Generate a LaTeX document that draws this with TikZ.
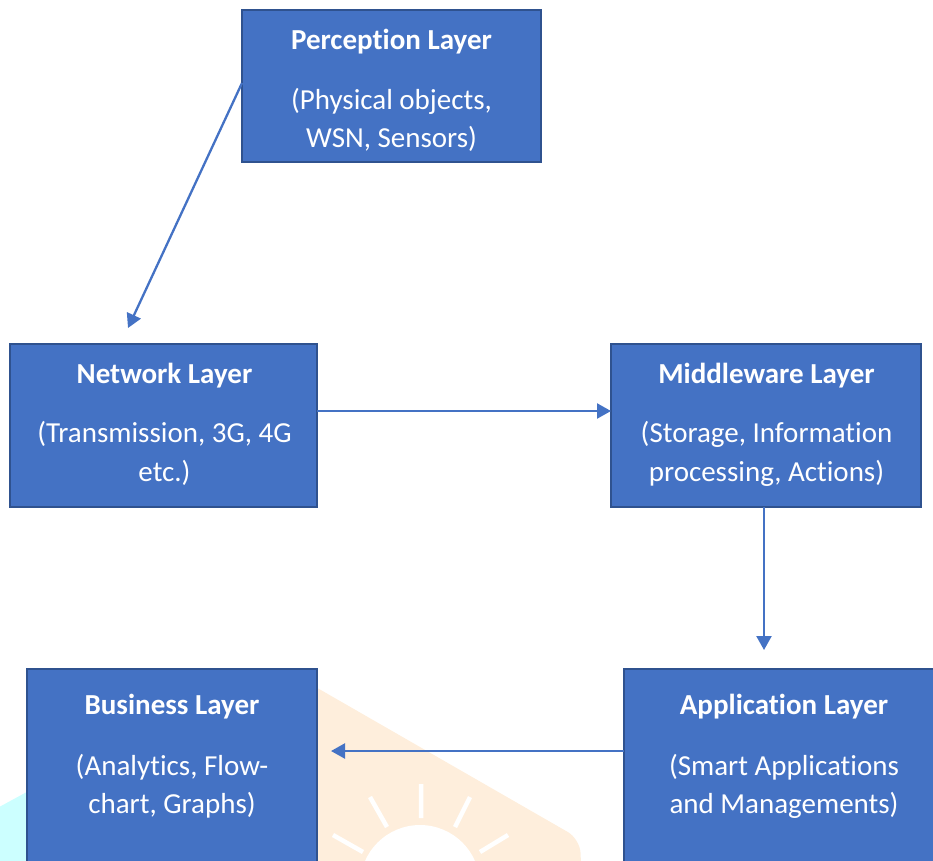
\documentclass[tikz,border=0pt]{standalone}
\usepackage{fontspec}
\setmainfont{Carlito}[Ligatures={NoCommon}]
\usetikzlibrary{arrows.meta,calc}
\definecolor{layerfill}{HTML}{4472C4}
\definecolor{layeredge}{HTML}{2F528F}
\definecolor{wmpeach}{HTML}{FEEEDC}
\definecolor{wmcyan}{HTML}{CCFFFF}
\begin{document}
\begin{tikzpicture}[x=1pt,y=-1pt,
  layer/.style={rectangle, draw=layeredge, fill=layerfill, line width=1.5pt, inner sep=0pt, outer sep=0pt},
  ttl/.style={anchor=base, text=white, font=\fontsize{29}{38}\selectfont\bfseries, inner sep=0pt},
  body/.style={anchor=base, text=white, font=\fontsize{29}{38}\selectfont, inner sep=0pt},
  flow/.style={draw=layerfill, line width=2.3pt, -{Triangle[length=14pt,width=15pt]}}]
\useasboundingbox (0,0) rectangle (933,860);
\clip (0,0) rectangle (933,860);

% faint background emblem
\fill[wmcyan] (-10,812) -- (80,763) -- (80,900) -- (-10,900) -- cycle;
\fill[wmpeach, rounded corners=14pt] (300,678) -- (580,839) -- (584,940) -- (300,940) -- cycle;
\fill[white] (420,885) circle (60);
\draw[white, line width=4.5pt]
  (421,784) -- (421,818)
  (370,797) -- (387,827)
  (470,797) -- (455,827)
  (333,835) -- (363,852)
  (508,835) -- (480,852);

% layer boxes
\node[layer, minimum width=299pt, minimum height=152pt] (per) at (391.5,86) {};
\node[layer, minimum width=307pt, minimum height=163pt] (net) at (163.5,425.5) {};
\node[layer, minimum width=310pt, minimum height=163pt] (mid) at (766,425.5) {};
\node[layer, minimum width=320pt, minimum height=230pt] (app) at (784,784) {};
\node[layer, minimum width=290pt, minimum height=230pt] (bus) at (172,784) {};

% box texts
\node[ttl]  (perT)  at (391.5,49)  {Perception Layer};
\node[body] (perB1) at (391.5,109) {(Physical objects,};
\node[body] (perB2) at (391.5,147) {WSN, Sensors)};

\node[ttl]  (netT)  at (164.5,383) {Network Layer};
\node[body] (netB1) at (164.5,442) {(Transmission, 3G, 4G};
\node[body] (netB2) at (164.5,481) {etc.)};

\node[ttl]  (midT)  at (766.5,383) {Middleware Layer};
\node[body] (midB1) at (766.5,442) {(Storage, Information};
\node[body] (midB2) at (766.5,481) {processing, Actions)};

\node[ttl]  (appT)  at (784,714) {Application Layer};
\node[body] (appB1) at (784,775) {(Smart Applications};
\node[body] (appB2) at (784,813) {and Managements)};

\node[ttl]  (busT)  at (172,714) {Business Layer};
\node[body] (busB1) at (172,775) {(Analytics, Flow-};
\node[body] (busB2) at (172,813) {chart, Graphs)};

% connectors
\coordinate (netIn) at (128,328);
\coordinate (appIn) at (764,650);
\coordinate (busIn) at (331,751);
\draw[flow] ([yshift=3pt]per.west) -- (netIn);
\draw[flow] ([yshift=14.5pt]net.east) -- ([yshift=14.5pt]mid.west);
\draw[flow] ([xshift=-2pt]mid.south) -- (appIn);
\draw[flow] (app.west |- busIn) -- (busIn);
\end{tikzpicture}
\end{document}
